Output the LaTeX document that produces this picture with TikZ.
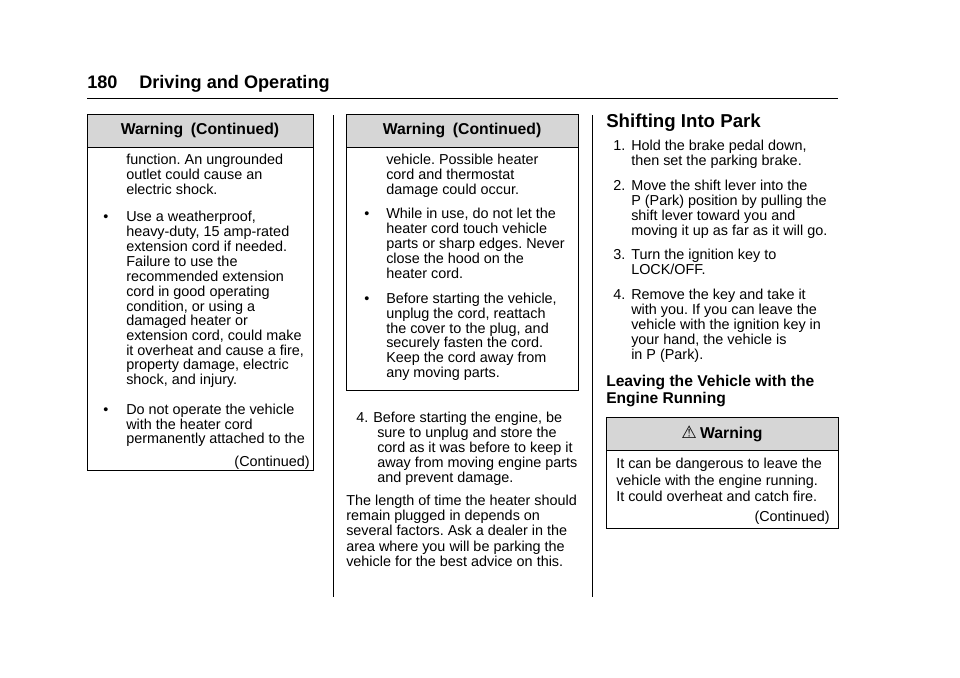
\documentclass[tikz,border=0pt]{standalone}
\usepackage{fontspec}
\setmainfont{Liberation Sans}
\newfontfamily\djvfont{DejaVu Sans}
\frenchspacing
\begin{document}
\begin{tikzpicture}[x=0.75pt,y=-0.75pt,
  txt/.style={anchor=base west,inner sep=0pt,font=\fontsize{10.8pt}{12pt}\selectfont},
  rtxt/.style={anchor=base east,inner sep=0pt,font=\fontsize{10.8pt}{12pt}\selectfont},
  hdr/.style={font=\bfseries\fontsize{11.8pt}{13pt}\selectfont,inner sep=0pt},
  boxline/.style={draw=black,line width=0.6pt},
  band/.style={fill=black!16,draw=black,line width=0.6pt}]
\newcommand\Ln[3]{\node[txt] at (#1,#2+5) {#3};}
\useasboundingbox (0,0) rectangle (960,678);
\fill[white] (0,0) rectangle (960,678);
% header
\node[anchor=base west,inner sep=0pt,font=\bfseries\fontsize{13.6pt}{15pt}\selectfont] (title) at (87,88) {180\hspace{1.2em}Driving and Operating};
\draw[line width=0.6pt] (87,98) -- (838,98);
\draw[line width=0.5pt] (333,115) -- (333,597);
\draw[line width=0.5pt] (592,115) -- (592,597);
% col1 box
\draw[boxline] (87,114) rectangle (313,470);
\draw[band] (87,114) rectangle (313,147);
\node[hdr] (h1) at (200,130) {Warning\hspace{0.5em}(Continued)};
\Ln{126}{159}{function. An ungrounded}
\Ln{126}{174}{outlet could cause an}
\Ln{126}{189}{electric shock.}
\Ln{103}{216}{•}
\Ln{126}{216}{Use a weatherproof,}
\Ln{126}{231}{heavy-duty, 15 amp-rated}
\Ln{126}{246}{extension cord if needed.}
\Ln{126}{261}{Failure to use the}
\Ln{126}{276}{recommended extension}
\Ln{126}{291}{cord in good operating}
\Ln{126}{306}{condition, or using a}
\Ln{126}{320}{damaged heater or}
\Ln{126}{335}{extension cord, could make}
\Ln{126}{350}{it overheat and cause a fire,}
\Ln{126}{364}{property damage, electric}
\Ln{126}{379}{shock, and injury.}
\Ln{103}{409}{•}
\Ln{126}{409}{Do not operate the vehicle}
\Ln{126}{424}{with the heater cord}
\Ln{126}{438}{permanently attached to the}
\node[rtxt] at (310,466) {(Continued)};
% col2 box
\draw[boxline] (346,114) rectangle (578,390);
\draw[band] (346,114) rectangle (578,147);
\node[hdr] (h2) at (462,130) {Warning\hspace{0.5em}(Continued)};
\Ln{386}{159}{vehicle. Possible heater}
\Ln{386}{174}{cord and thermostat}
\Ln{386}{189}{damage could occur.}
\Ln{364}{213}{•}
\Ln{386}{213}{While in use, do not let the}
\Ln{386}{228}{heater cord touch vehicle}
\Ln{386}{243}{parts or sharp edges. Never}
\Ln{386}{258}{close the hood on the}
\Ln{386}{273}{heater cord.}
\Ln{364}{298}{•}
\Ln{386}{298}{Before starting the vehicle,}
\Ln{386}{313}{unplug the cord, reattach}
\Ln{386}{328}{the cover to the plug, and}
\Ln{386}{342}{securely fasten the cord.}
\Ln{386}{357}{Keep the cord away from}
\Ln{386}{372}{any moving parts.}
\Ln{356}{417}{4.}
\Ln{373}{417}{Before starting the engine, be}
\Ln{377}{432}{sure to unplug and store the}
\Ln{377}{447}{cord as it was before to keep it}
\Ln{377}{462}{away from moving engine parts}
\Ln{377}{477}{and prevent damage.}
\Ln{346}{500}{The length of time the heater should}
\Ln{346}{515}{remain plugged in depends on}
\Ln{346}{530}{several factors. Ask a dealer in the}
\Ln{346}{546}{area where you will be parking the}
\Ln{346}{561}{vehicle for the best advice on this.}
% col3
\node[anchor=base west,inner sep=0pt,font=\bfseries\fontsize{14pt}{16pt}\selectfont] (sip) at (606,127) {Shifting Into Park};
\Ln{613}{145}{1.}
\Ln{631}{145}{Hold the brake pedal down,}
\Ln{631}{160}{then set the parking brake.}
\Ln{613}{185}{2.}
\Ln{631}{185}{Move the shift lever into the}
\Ln{631}{200}{P (Park) position by pulling the}
\Ln{631}{215}{shift lever toward you and}
\Ln{631}{230}{moving it up as far as it will go.}
\Ln{613}{254}{3.}
\Ln{631}{254}{Turn the ignition key to}
\Ln{631}{269}{LOCK/OFF.}
\Ln{613}{294}{4.}
\Ln{631}{294}{Remove the key and take it}
\Ln{631}{309}{with you. If you can leave the}
\Ln{631}{324}{vehicle with the ignition key in}
\Ln{631}{339}{your hand, the vehicle is}
\Ln{631}{354}{in P (Park).}
\node[anchor=base west,inner sep=0pt,font=\bfseries\fontsize{11.7pt}{13pt}\selectfont] at (606,386) {Leaving the Vehicle with the};
\node[anchor=base west,inner sep=0pt,font=\bfseries\fontsize{11.7pt}{13pt}\selectfont] at (606,403) {Engine Running};
\draw[boxline] (606,417) rectangle (838,528);
\draw[band] (606,417) rectangle (838,450);
\node[hdr] (h3) at (722,434) {{\djvfont\fontsize{13pt}{13pt}\selectfont ⚠}\hspace{0.2em}Warning};
\Ln{616}{463}{It can be dangerous to leave the}
\Ln{616}{480}{vehicle with the engine running.}
\Ln{616}{496}{It could overheat and catch fire.}
\node[rtxt] at (830,521) {(Continued)};
\end{tikzpicture}
\end{document}
